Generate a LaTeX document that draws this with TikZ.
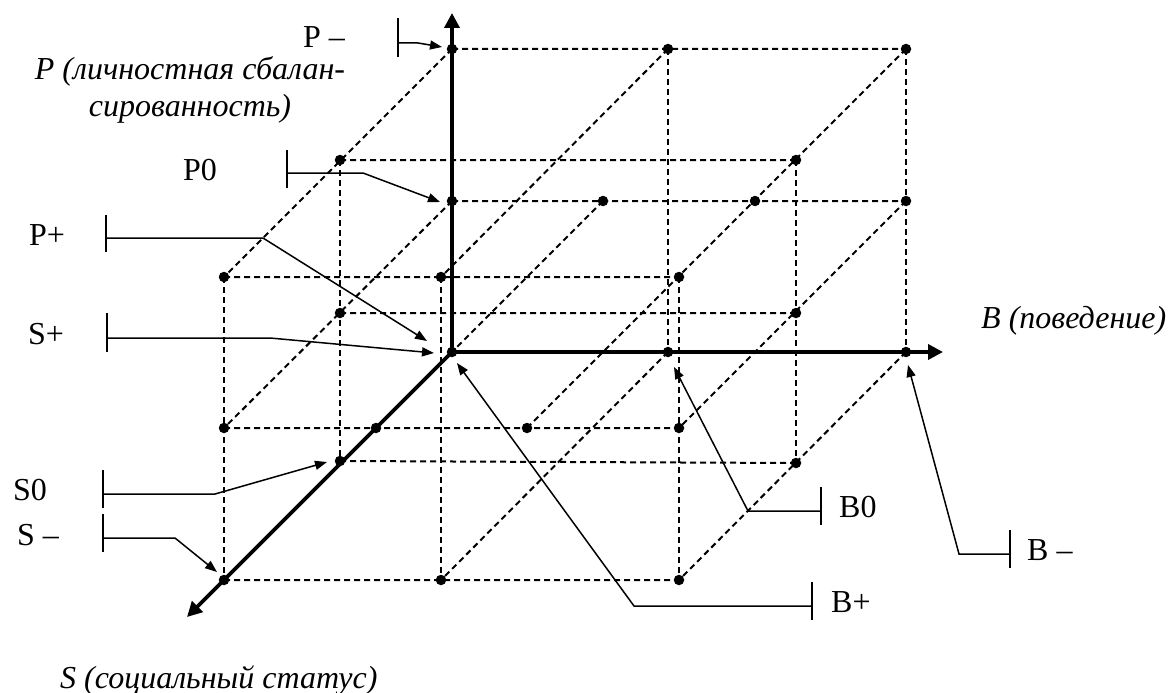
\documentclass[tikz,border=0pt]{standalone}
\usepackage{fontspec}
\setmainfont{Liberation Serif}
\usetikzlibrary{arrows.meta}
\begin{document}
\begin{tikzpicture}[x=1pt,y=-1pt,
  grid/.style={dash pattern=on 6pt off 4pt, line width=2pt},
  axisline/.style={line width=3.6pt, -{Triangle[length=15pt,width=15pt]}},
  leader/.style={line width=1.5pt, -{Triangle[length=12pt,width=9pt]}},
  barline/.style={line width=1.5pt},
  dot/.style={circle, fill, inner sep=0pt, minimum size=10.5pt},
  lab/.style={font=\fontsize{32}{36}\selectfont, inner sep=0pt, anchor=base west},
  ilab/.style={lab, font=\fontsize{32}{36}\selectfont\itshape},
]
\useasboundingbox (0,0) rectangle (1172,693);
% points
\coordinate (a1) at (452,49);  \coordinate (a2) at (668,49);  \coordinate (a3) at (906,49);
\coordinate (b1) at (340,160); \coordinate (b2) at (796,160);
\coordinate (c1) at (452,201); \coordinate (c2) at (603,201); \coordinate (c3) at (755,201); \coordinate (c4) at (906,201);
\coordinate (d1) at (224,277); \coordinate (d2) at (441,277); \coordinate (d3) at (679,277);
\coordinate (e1) at (340,313); \coordinate (e2) at (796,313);
\coordinate (o)  at (452,352); \coordinate (f2) at (668,352); \coordinate (f3) at (906,352);
\coordinate (g1) at (224,428); \coordinate (g2) at (376,428); \coordinate (g3) at (527,428); \coordinate (g4) at (679,428);
\coordinate (h1) at (340,461); \coordinate (h2) at (796,463);
\coordinate (k1) at (224,580); \coordinate (k2) at (441,580); \coordinate (k3) at (679,580);
\coordinate (pend) at (452,13); \coordinate (bend) at (943,352); \coordinate (send) at (187,617);
% dashed grid
\draw[grid] (a1)--(a3) (b1)--(b2) (c1)--(c4) (d1)--(d3) (e1)--(e2) (g1)--(g4) (h1)--(h2) (k1)--(k3);
\draw[grid] (d1)--(k1) (b1)--(h1) (d2)--(k2) (a2)--(f2) (d3)--(k3) (b2)--(h2) (a3)--(f3);
\draw[grid] (a1)--(d1) (c1)--(g1) (a2)--(d2) (c2)--(o) (a3)--(g3) (c4)--(g4) (f2)--(k2) (f3)--(k3);
% axes
\draw[axisline] (o)--(pend);
\draw[axisline] (o)--(bend);
\draw[axisline] (o)--(send);
% dots
\foreach \p in {a1,a2,a3,b1,b2,c1,c2,c3,c4,d1,d2,d3,e1,e2,o,f2,f3,g1,g2,g3,g4,h1,h2,k1,k2,k3}
  \node[dot] (n\p) at (\p) {};
% axis labels
\node[ilab, anchor=base] (plab1) at (190,79) {P (личностная сбалан-};
\node[ilab, anchor=base] (plab2) at (190,116) {сированность)};
\node[ilab] (blab) at (981,328) {B (поведение)};
\node[ilab] (slab) at (60,688) {S (социальный статус)};
% level labels
\node[lab, text depth=0pt] (lpm) at (303,48) {P –};
\node[lab] (lp0) at (183,180) {P0};
\node[lab] (lpp) at (29,245) {P+};
\node[lab] (lsp) at (28,344) {S+};
\node[lab] (ls0) at (13,500) {S0};
\node[lab] (lsm) at (17,545) {S –};
\node[lab] (lbp) at (831,612) {B+};
\node[lab] (lb0) at (839,517) {B0};
\node[lab] (lbm) at (1027,560) {B –};
% leaders
\coordinate (tpm) at (442,47);  \draw[barline] (398,18)--(398,57); \draw[leader] (398,43)--(418,43)--(tpm);
\coordinate (tp0) at (440,202); \draw[barline] (287,150)--(287,188); \draw[leader] (287,173)--(363,173)--(tp0);
\coordinate (tpp) at (427,341); \draw[barline] (106,215)--(106,252); \draw[leader] (106,238)--(263,238)--(tpp);
\coordinate (tsp) at (434,353); \draw[barline] (107,313)--(107,352); \draw[leader] (107,338)--(270,338)--(tsp);
\coordinate (ts0) at (327,462); \draw[barline] (103,470)--(103,508); \draw[leader] (103,494)--(215,494)--(ts0);
\coordinate (tsm) at (217,572); \draw[barline] (103,514)--(103,552); \draw[leader] (103,538)--(175,538)--(tsm);
\coordinate (tbp) at (457,363); \draw[barline] (812,582)--(812,620); \draw[leader] (812,606)--(634,606)--(tbp);
\coordinate (tb0) at (674,367); \draw[barline] (821,487)--(821,525); \draw[leader] (821,511)--(748,511)--(tb0);
\coordinate (tbm) at (908,365); \draw[barline] (1010,530)--(1010,568); \draw[leader] (1010,554)--(959,554)--(tbm);
\end{tikzpicture}
\end{document}
